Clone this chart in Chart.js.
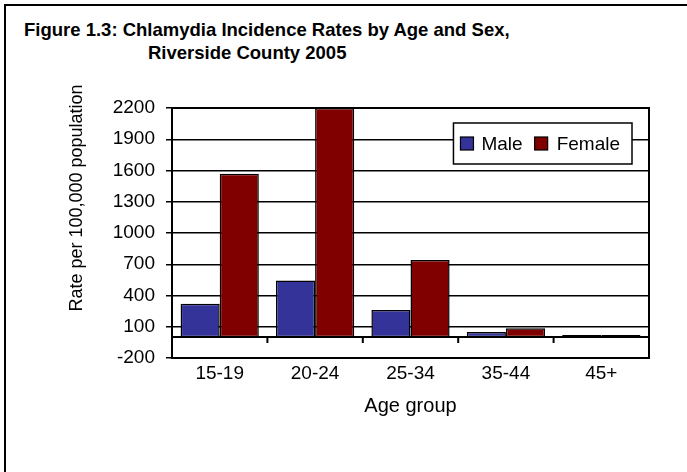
<!DOCTYPE html>
<html>
<head>
<meta charset="utf-8">
<script src="https://cdn.jsdelivr.net/npm/chart.js@4.4.1/dist/chart.umd.min.js"></script>
<style>
  html, body { margin: 0; padding: 0; background: #fff; overflow: hidden; }
  #wrap { position: relative; width: 687px; height: 472px; overflow: hidden; }
  #frame { position: absolute; left: 4px; top: 4px; width: 800px; height: 600px;
           border-left: 2px solid #000; border-top: 2px solid #000; }
  .ttl { position: absolute; font: bold 18.5px "Liberation Sans", Arial, sans-serif;
         line-height: 22px; color: #000; white-space: nowrap; }
  canvas { position: absolute; left: 0; top: 0; }
</style>
</head>
<body>
<div id="wrap">
  <div id="frame"></div>
  <div class="ttl" style="left:24px; top:19px;">Figure 1.3: Chlamydia Incidence Rates by Age and Sex,</div>
  <div class="ttl" style="left:148px; top:42px;">Riverside County 2005</div>
  <canvas id="chart" width="687" height="472"></canvas>
</div>
<script>
// data
const ageGroups = ['15-19', '20-24', '25-34', '35-44', '45+'];
const maleRates = [320, 545, 260, 50, 22];
const femaleRates = [1570, 2200, 740, 85, 22];
const yTicks = [-200, 100, 400, 700, 1000, 1300, 1600, 1900, 2200];

const font = '"Liberation Sans", Arial, sans-serif';

// axis titles, zero line, frame and the boxed legend
const extras = {
  id: 'extras',
  afterDatasetsDraw(chart) {
    const { ctx, chartArea: a, scales } = chart;
    const x = scales.x, y = scales.y;
    ctx.save();
    ctx.strokeStyle = '#000';
    ctx.lineWidth = 2;
    // zero line with ticks at category boundaries
    const y0 = Math.round(y.getPixelForValue(0));
    ctx.beginPath();
    ctx.moveTo(a.left, y0);
    ctx.lineTo(a.right, y0);
    for (let i = 1; i < ageGroups.length; i++) {
      const bx = (x.getPixelForValue(i - 1) + x.getPixelForValue(i)) / 2;
      ctx.moveTo(bx, y0);
      ctx.lineTo(bx, y0 + 6);
    }
    ctx.stroke();
    // plot frame
    ctx.strokeRect(a.left, a.top, a.right - a.left, a.bottom - a.top);
    ctx.restore();
  },
  afterDraw(chart) {
    const { ctx, chartArea: a } = chart;
    ctx.save();
    ctx.fillStyle = '#000';
    // x title
    ctx.font = '20px ' + font;
    ctx.textAlign = 'center';
    ctx.textBaseline = 'middle';
    ctx.fillText('Age group', (a.left + a.right) / 2, 406);
    // y title
    ctx.translate(77, 198);
    ctx.rotate(-Math.PI / 2);
    ctx.font = '18px ' + font;
    ctx.fillText('Rate per 100,000 population', 0, 0);
    ctx.restore();

    // legend
    ctx.save();
    ctx.font = '19px ' + font;
    const sets = chart.data.datasets;
    const widths = sets.map(d => ctx.measureText(d.label).width);
    const boxW = 7 + 13 + 8 + widths[0] + 12 + 13 + 9 + widths[1] + 12;
    const lx = a.right - 17 - boxW, ly = a.top + 15, boxH = 41;
    ctx.fillStyle = '#fff';
    ctx.fillRect(lx, ly, boxW, boxH);
    ctx.strokeStyle = '#000';
    ctx.lineWidth = 1.5;
    ctx.strokeRect(lx, ly, boxW, boxH);
    let cx = lx + 7;
    const cy = ly + boxH / 2;
    ctx.textBaseline = 'middle';
    sets.forEach((d, i) => {
      ctx.fillStyle = d.backgroundColor;
      ctx.fillRect(cx, cy - 6.5, 13, 13);
      ctx.lineWidth = 1.2;
      ctx.strokeRect(cx, cy - 6.5, 13, 13);
      cx += 13 + (i === 0 ? 8 : 9);
      ctx.fillStyle = '#000';
      ctx.fillText(d.label, cx, cy + 1);
      cx += widths[i] + 12;
    });
    ctx.restore();
  }
};

new Chart(document.getElementById('chart'), {
  type: 'bar',
  data: {
    labels: ageGroups,
    datasets: [
      { label: 'Male', data: maleRates, backgroundColor: '#333399', borderColor: '#000', borderWidth: 1.5, borderSkipped: false },
      { label: 'Female', data: femaleRates, backgroundColor: '#800000', borderColor: '#000', borderWidth: 1.5, borderSkipped: false }
    ]
  },
  options: {
    responsive: false,
    animation: false,
    devicePixelRatio: 1,
    layout: { padding: { top: 108, right: 38, left: 0, bottom: 0 } },
    datasets: { bar: { categoryPercentage: 0.82, barPercentage: 1.0 } },
    plugins: { legend: { display: false }, tooltip: { enabled: false } },
    scales: {
      x: {
        grid: { display: false },
        border: { display: true, color: '#000', width: 2 },
        ticks: { color: '#000', font: { family: font, size: 19 }, padding: -4, maxRotation: 0 },
        afterFit(s) { s.height = 114; }
      },
      y: {
        min: -200,
        max: 2200,
        afterBuildTicks(s) { s.ticks = yTicks.map(v => ({ value: v })); },
        grid: { color: '#000', lineWidth: 1.5, tickLength: 6 },
        border: { display: true, color: '#000', width: 2 },
        ticks: { color: '#000', font: { family: font, size: 19 }, padding: 11, callback: v => String(v) },
        afterFit(s) { s.width = 172; }
      }
    }
  },
  plugins: [extras]
});
</script>
</body>
</html>
